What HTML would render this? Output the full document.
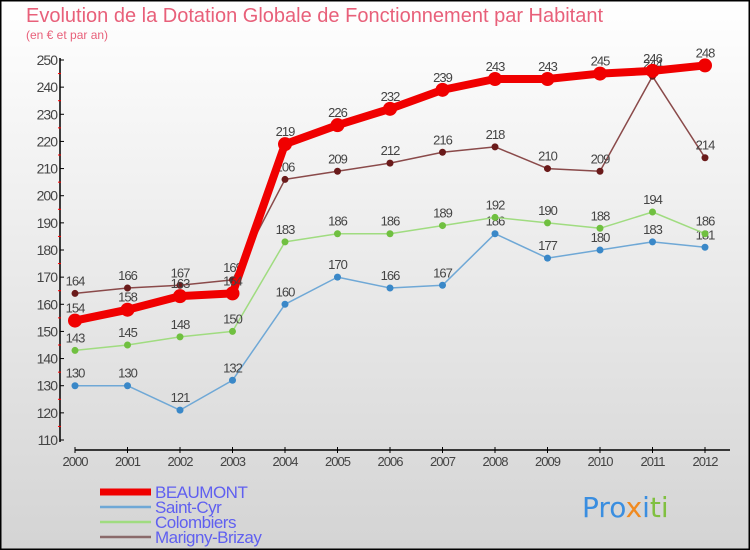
<!DOCTYPE html>
<html><head><meta charset="utf-8"><style>
body{margin:0}
#c{width:750px;height:550px;position:relative;overflow:hidden;font-family:"Liberation Sans",sans-serif}
</style></head><body>
<div id="c">
<svg id="s" width="750" height="550" xmlns="http://www.w3.org/2000/svg" font-family="Liberation Sans, sans-serif">
<defs><linearGradient id="bg" x1="0" y1="0" x2="0" y2="1"><stop offset="0" stop-color="#ffffff"/><stop offset="1" stop-color="#d4d4d4"/></linearGradient></defs>
<rect x="0.5" y="0.5" width="749" height="549" fill="url(#bg)" stroke="#000" stroke-width="2"/>
<text x="26" y="22" font-size="20" fill="#e8607a">Evolution de la Dotation Globale de Fonctionnement par Habitant</text>
<text x="26" y="39" font-size="12" fill="#e8607a">(en € et par an)</text>
<g id="axes"></g><g id="series"></g><g id="legend"></g>
<g font-size="28" font-family="'DejaVu Sans',sans-serif">
<text x="582" y="517"><tspan fill="#3a8ee0">Pro</tspan><tspan fill="#f08a20">x</tspan><tspan fill="#3a8ee0">i</tspan><tspan fill="#80c040">ti</tspan></text>
</g>
</svg>
</div>
<script>
const years=["2000","2001","2002","2003","2004","2005","2006","2007","2008","2009","2010","2011","2012"];
const yTicks=[110,120,130,140,150,160,170,180,190,200,210,220,230,240,250];
const beaumont=[154,158,163,164,219,226,232,239,243,243,245,246,248];
const saintCyr=[130,130,121,132,160,170,166,167,186,177,180,183,181];
const colombiers=[143,145,148,150,183,186,186,189,192,190,188,194,186];
const marigny=[164,166,167,169,206,209,212,216,218,210,209,244,214];
const NS="http://www.w3.org/2000/svg";
const X=i=>75+i*52.5;
const Y=v=>440-(v-110)*(380/140);
function mk(t,a,p){const e=document.createElementNS(NS,t);for(const k in a)e.setAttribute(k,a[k]);p.appendChild(e);return e;}
const ax=document.getElementById('axes');
const ya=mk('line',{x1:60,y1:58,x2:60,y2:442,stroke:'#000','stroke-width':1.5},ax);


yTicks.forEach(v=>{
 mk('line',{x1:60,y1:Y(v),x2:64,y2:Y(v),stroke:'#000'},ax);
 if(v<250)mk('line',{x1:58,y1:Y(v+5),x2:61,y2:Y(v+5),stroke:'#f00'},ax);
 const t=mk('text',{x:57,y:Y(v)+5,'text-anchor':'end','font-size':14,fill:'#444','letter-spacing':'-1'},ax);t.textContent=v;
 
 
});
const xa=mk('line',{x1:75,y1:450,x2:730,y2:450,stroke:'#000','stroke-width':1.5},ax);


years.forEach((y,i)=>{
 mk('line',{x1:X(i),y1:447,x2:X(i),y2:453,stroke:'#000'},ax);
 const t=mk('text',{x:X(i),y:466,'text-anchor':'middle','font-size':13,fill:'#444','letter-spacing':'-1'},ax);t.textContent=y;
 
 
});
const sg=document.getElementById('series');
function draw(data,color,dot,w,r,name){
 const g=mk('g',{},sg);
 
 
 mk('polyline',{points:data.map((v,i)=>X(i)+','+Y(v)).join(' '),fill:'none',stroke:color,'stroke-width':w,'stroke-linejoin':'round'},g);
 data.forEach((v,i)=>{
  const c=mk('circle',{cx:X(i),cy:Y(v),r:r,fill:dot},g);
  
  
  const t=mk('text',{x:X(i),y:Y(v)-8,'text-anchor':'middle','font-size':13,fill:'#444','letter-spacing':'-1'},g);t.textContent=v;
  
  
 });
}
draw(saintCyr,'#6fa8d6','#3a88c8',1.5,3.5,'saint-cyr');
draw(colombiers,'#a0dc80','#70c040',1.5,3.5,'colombiers');
draw(marigny,'#8a4a4a','#6a1a1a',1.5,3.5,'marigny-brizay');
draw(beaumont,'#f00000','#f00000',8,7,'beaumont');
const lg=document.getElementById('legend');
[["BEAUMONT","#f00000",7],["Saint-Cyr","#6fa8d6",2.5],["Colombiers","#a0dc80",2.5],["Marigny-Brizay","#8a6a6a",2.5]].forEach((d,i)=>{
 const y=492+i*15;
 const g=mk('g',{},lg);
 
 
 mk('line',{x1:100,y1:y,x2:151,y2:y,stroke:d[1],'stroke-width':d[2]},g);
 const t=mk('text',{x:155,y:y+6,'font-size':17,fill:'#6060f0','letter-spacing':'-0.5'},g);t.textContent=d[0];
});
</script>
</body></html>
